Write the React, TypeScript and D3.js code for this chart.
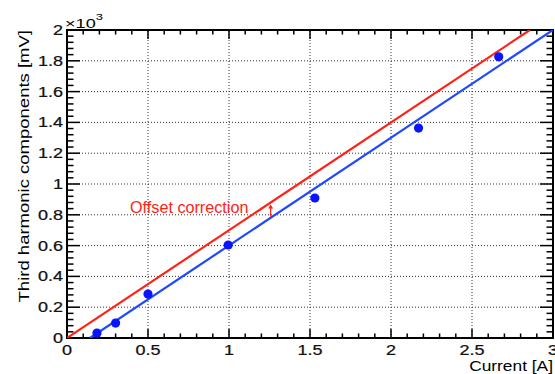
import React, {useEffect, useRef} from 'react';
import * as d3 from 'd3';

// measured points: current [A] vs third harmonic [mV]
const currents = [0.185, 0.3, 0.5, 0.995, 1.53, 2.17, 2.665];
const harmonics = [32, 97, 285, 604, 909, 1363, 1826];

// fitted lines (slope in mV/A, x-intercept in A)
const slope = 700;
const fitOffset = 0.142;
const correctedOffset = 0;

const xTicks = [0, 0.5, 1, 1.5, 2, 2.5, 3];
const yTicks = [0, 200, 400, 600, 800, 1000, 1200, 1400, 1600, 1800, 2000];

const arrowAt = 1.257;

const W = 555, H = 374;
const margin = {top: 30, right: 2, bottom: 36, left: 67};

const App = () => {
    const anchor = useRef<SVGSVGElement>(null);

    useEffect(() => {
        const svg = d3.select(anchor.current);
        svg.selectAll('*').remove();

        const x = d3.scaleLinear().domain([0, 3]).range([margin.left, W - margin.right]);
        const y = d3.scaleLinear().domain([0, 2000]).range([H - margin.bottom, margin.top]);
        const [x0, x1] = x.range();
        const [y0, y1] = y.range();
        const font = 'Liberation Sans, Arial, Helvetica, sans-serif';

        // grid
        const grid = svg.append('g').attr('stroke', '#333').attr('stroke-width', 1)
            .attr('stroke-dasharray', '1,2');
        xTicks.slice(1, -1).forEach(t => grid.append('line')
            .attr('x1', x(t)).attr('x2', x(t)).attr('y1', y0).attr('y2', y1));
        yTicks.slice(1, -1).forEach(t => grid.append('line')
            .attr('x1', x0).attr('x2', x1).attr('y1', y(t)).attr('y2', y(t)));

        // ticks (ROOT style, inward, mirrored)
        const ticks = svg.append('g').attr('stroke', '#000').attr('stroke-width', 1.5);
        d3.range(0, 3.0001, 0.1).forEach((t, i) => {
            const len = i % 5 === 0 ? 9 : 4.5;
            ticks.append('line').attr('x1', x(t)).attr('x2', x(t)).attr('y1', y0).attr('y2', y0 - len);
            ticks.append('line').attr('x1', x(t)).attr('x2', x(t)).attr('y1', y1).attr('y2', y1 + len);
        });
        d3.range(0, 2000.1, 40).forEach((t, i) => {
            const len = i % 5 === 0 ? 13 : 6.5;
            ticks.append('line').attr('x1', x0).attr('x2', x0 + len).attr('y1', y(t)).attr('y2', y(t));
            ticks.append('line').attr('x1', x1).attr('x2', x1 - len).attr('y1', y(t)).attr('y2', y(t));
        });

        // frame
        svg.append('rect').attr('x', x0).attr('y', y1).attr('width', x1 - x0).attr('height', y0 - y1)
            .attr('fill', 'none').attr('stroke', '#000').attr('stroke-width', 2);

        // tick labels (glyphs slightly wide in the original)
        svg.append('g').selectAll('text').data(xTicks).enter().append('text')
            .attr('transform', d => `translate(${x(d)},${y0 + 17}) scale(1.2,1)`)
            .attr('text-anchor', 'middle').attr('font-family', font).attr('font-size', 15)
            .attr('fill', '#111').attr('stroke', '#111').attr('stroke-width', 0.25)
            .text(d => String(d));
        svg.append('g').selectAll('text').data(yTicks).enter().append('text')
            .attr('transform', d => `translate(${x0 - 4},${y(d) + 5}) scale(1.2,1)`)
            .attr('text-anchor', 'end').attr('font-family', font).attr('font-size', 15)
            .attr('fill', '#111').attr('stroke', '#111').attr('stroke-width', 0.25)
            .text(d => String(d / 1000));

        const exp = svg.append('text').attr('transform', `translate(${x0 - 2},28) scale(1.45,1)`)
            .attr('font-family', font).attr('font-size', 12.5);
        exp.append('tspan').text('\u00d710');
        exp.append('tspan').attr('dy', -8).attr('font-size', 9).text('3');

        // axis titles
        svg.append('text').attr('transform', `translate(${x1},371) scale(1.12,1)`)
            .attr('text-anchor', 'end').attr('font-family', font).attr('font-size', 15.5)
            .text('Current [A]');
        svg.append('text').attr('transform', `translate(29,${y1}) rotate(-90) scale(1,0.8)`)
            .attr('text-anchor', 'end').attr('font-family', font).attr('font-size', 18.5)
            .text('Third harmonic components [mV]');

        // fit lines clipped to frame
        svg.append('clipPath').attr('id', 'frame').append('rect')
            .attr('x', x0).attr('y', y1).attr('width', x1 - x0).attr('height', y0 - y1);
        const fitLine = (off: number, color: string) => {
            const xe = Math.min(3, off + 2000 / slope);
            svg.append('path')
                .attr('clip-path', 'url(#frame)')
                .attr('d', d3.line()([[x(off), y(0)], [x(xe), y(slope * (xe - off))]]))
                .attr('fill', 'none').attr('stroke', color).attr('stroke-width', 2.2);
        };
        fitLine(correctedOffset, '#ff2316');
        fitLine(fitOffset, '#1f48ff');

        // data points
        svg.append('g').selectAll('circle').data(currents).enter().append('circle')
            .attr('cx', d => x(d)).attr('cy', (d, i) => y(harmonics[i]))
            .attr('r', 4.6).attr('fill', '#0b14ff');

        // offset arrow + label
        const ya = y(slope * (arrowAt - fitOffset)) - 1;
        const yb = y(slope * (arrowAt - correctedOffset)) + 3;
        svg.append('line').attr('x1', x(arrowAt)).attr('x2', x(arrowAt)).attr('y1', ya).attr('y2', yb)
            .attr('stroke', '#ff2316').attr('stroke-width', 1.2);
        svg.append('path')
            .attr('d', `M${x(arrowAt) - 2.5},${yb + 3} L${x(arrowAt)},${yb - 1} L${x(arrowAt) + 2.5},${yb + 3} Z`)
            .attr('fill', '#ff2316');
        svg.append('text').attr('x', 130).attr('y', 213)
            .attr('font-family', font).attr('font-size', 16.2).attr('fill', '#ff2316')
            .text('Offset correction');
    }, []);

    return <svg ref={anchor} width={W} height={H}
                style={{position: 'absolute', left: 0, top: 0, background: '#fff'}}/>;
};

export default App;
